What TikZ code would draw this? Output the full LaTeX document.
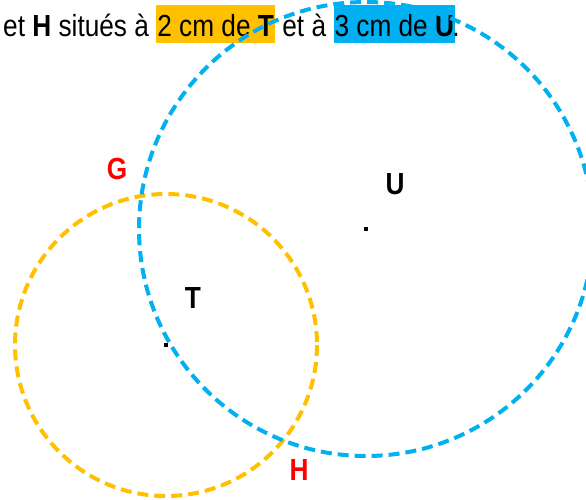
\documentclass[tikz,border=0pt]{standalone}
\usepackage{fontspec}
\setmainfont{Liberation Sans}
\usetikzlibrary{positioning}
\definecolor{gold}{HTML}{FFC000}
\definecolor{skyblue}{HTML}{00B0F0}
\definecolor{ptred}{HTML}{FF0000}
\newcommand{\narrow}[1]{\scalebox{0.86}[1]{#1}}
\tikzset{
  txt/.style={inner sep=0pt, font=\fontsize{30.5}{36}\selectfont},
  hilite/.style={txt, inner xsep=1pt, text height=31pt, text depth=7pt},
  ptlabel/.style={inner sep=0pt, font=\fontsize{30.5}{36}\selectfont\bfseries},
  dashcircle/.style={line width=4pt, dash pattern=on 11pt off 6pt},
  ptdot/.style={fill=black, minimum size=3.5pt, inner sep=0pt}
}
\begin{document}
\begin{tikzpicture}[x=1pt, y=-1pt]
  \useasboundingbox (0,0) rectangle (586,499);
  % ligne de consigne
  \node[txt, anchor=base west] (txtA) at (3,36) {\narrow{et \textbf{H} situés à}};
  \node[hilite, fill=gold, base right=7pt of txtA] (hlT) {\narrow{2 cm de \textbf{T}}};
  \node[txt, base right=7pt of hlT] (txtB) {\narrow{et à}};
  \node[hilite, fill=skyblue, base right=7pt of txtB] (hlU) {\narrow{3 cm de \textbf{U}}};
  \node[txt, base right=-3pt of hlU] (dot) {\narrow{.}};
  % centres
  \node[ptdot] (T) at (166,345) {};
  \node[ptdot] (U) at (366,229) {};
  % cercles
  \draw[dashcircle, draw=gold] (T.center) circle (151);
  \draw[dashcircle, draw=skyblue] (U.center) circle (227);
  % noms des points
  \node[ptlabel] (labT) at (193,298) {\narrow{T}};
  \node[ptlabel] (labU) at (395,184) {\narrow{U}};
  \node[ptlabel, text=ptred] (labG) at (117,169) {\narrow{G}};
  \node[ptlabel, text=ptred] (labH) at (299,470) {\narrow{H}};
\end{tikzpicture}
\end{document}
